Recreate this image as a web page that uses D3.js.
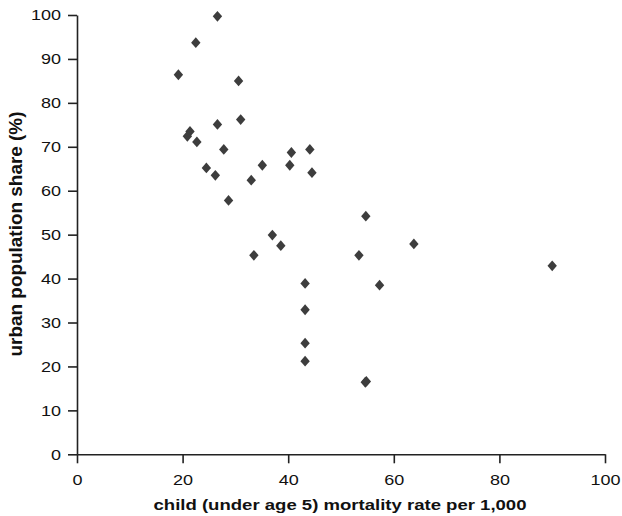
<!DOCTYPE html>
<html>
<head>
<meta charset="utf-8">
<script src="https://cdn.jsdelivr.net/npm/d3@7"></script>
<style>
  html, body { margin: 0; padding: 0; background: #fff; }
  svg { display: block; }
  .tick text { font-family: "Liberation Sans", Arial, sans-serif; font-size: 15px; fill: #111; }
  .axis-title { font-family: "Liberation Sans", Arial, sans-serif; font-weight: bold; fill: #111; }
</style>
</head>
<body>
<script>
// child (under age 5) mortality rate per 1,000
const mortality = [19.2, 22.5, 26.6, 30.6, 31.0, 26.6, 21.4, 20.9, 22.7, 27.8,
                   24.5, 26.2, 28.7, 33.0, 35.1, 40.6, 40.3, 44.1, 44.5, 37.0,
                   38.6, 33.5, 54.7, 53.4, 63.8, 57.3, 43.2, 43.2, 43.2, 43.2,
                   54.6, 54.8, 90.0];
// urban population share (%)
const urbanShare = [86.4, 93.7, 99.7, 85.0, 76.2, 75.1, 73.5, 72.4, 71.1, 69.4,
                    65.2, 63.5, 57.8, 62.4, 65.8, 68.7, 65.8, 69.4, 64.1, 49.9,
                    47.5, 45.3, 54.2, 45.3, 47.9, 38.5, 38.9, 32.9, 25.3, 21.2,
                    16.4, 16.6, 42.9];
const xTicks = [0, 20, 40, 60, 80, 100];
const yTicks = [0, 10, 20, 30, 40, 50, 60, 70, 80, 90, 100];

const width = 622, height = 516;
const svg = d3.select("body").append("svg")
  .attr("width", width).attr("height", height);

const x = d3.scaleLinear().domain([0, 100]).range([77, 605]);
const y = d3.scaleLinear().domain([0, 100]).range([454.3, 15]);

const xAxis = svg.append("g")
  .attr("transform", `translate(0,${y(0)})`)
  .call(d3.axisBottom(x).tickValues(xTicks).tickSize(9).tickSizeOuter(0).tickPadding(11));
const yAxis = svg.append("g")
  .attr("transform", `translate(${x(0)},0)`)
  .call(d3.axisLeft(y).tickValues(yTicks).tickSize(9).tickSizeOuter(0).tickPadding(7));

[xAxis, yAxis].forEach(g => {
  g.select(".domain").attr("stroke", "#222").attr("stroke-width", 1.6);
  g.selectAll(".tick line").attr("stroke", "#222").attr("stroke-width", 1.6);
  // tick numerals are set a little wide
  g.selectAll(".tick text").each(function () {
    const w = this.getComputedTextLength();
    d3.select(this).attr("textLength", w * 1.2).attr("lengthAdjust", "spacingAndGlyphs");
  });
});

// diamond markers, slightly taller than wide
const hw = 4.7, hh = 5.4;
const diamond = `M0,${-hh}L${hw},0L0,${hh}L${-hw},0Z`;

svg.append("g").selectAll("path")
  .data(d3.range(mortality.length))
  .join("path")
  .attr("d", diamond)
  .attr("transform", i => `translate(${x(mortality[i])},${y(urbanShare[i])})`)
  .attr("fill", "#3d3d3d");

svg.append("text")
  .attr("class", "axis-title")
  .attr("x", 340)
  .attr("y", 510)
  .attr("font-size", 15.5)
  .attr("text-anchor", "middle")
  .attr("textLength", 373)
  .attr("lengthAdjust", "spacingAndGlyphs")
  .text("child (under age 5) mortality rate per 1,000");

svg.append("text")
  .attr("class", "axis-title")
  .attr("transform", `translate(22,${234}) rotate(-90)`)
  .attr("font-size", 18)
  .attr("text-anchor", "middle")
  .attr("textLength", 245)
  .attr("lengthAdjust", "spacingAndGlyphs")
  .text("urban population share (%)");
</script>
</body>
</html>
